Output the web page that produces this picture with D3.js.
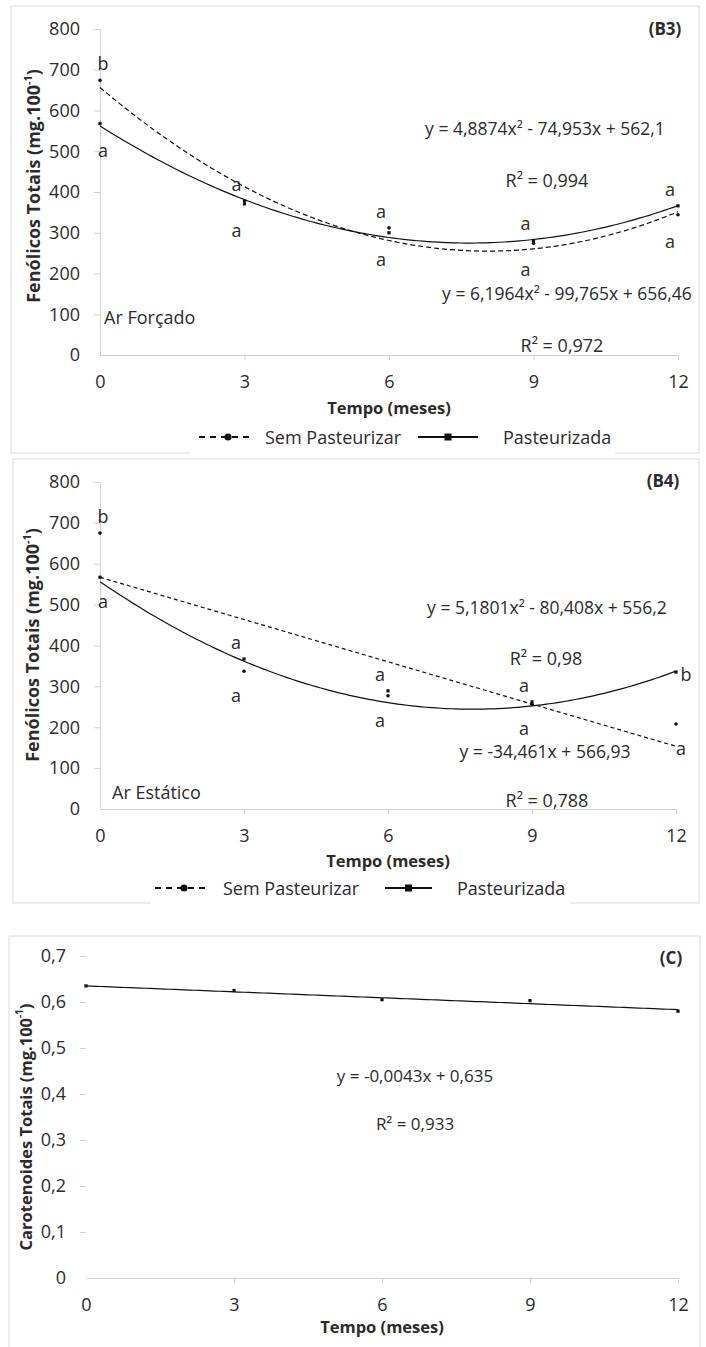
<!DOCTYPE html>
<html>
<head>
<meta charset="utf-8">
<script src="https://cdn.jsdelivr.net/npm/d3@7"></script>
<style>
  html, body { margin: 0; padding: 0; background: #fff; }
  svg text { font-family: "Open Sans", "Noto Sans", sans-serif; fill: #2b2b2b; }
</style>
</head>
<body>
<svg id="chart" width="706" height="1347"></svg>
<script>
// ---- data ----
const months = [0, 3, 6, 9, 12];
const fenolicosTicks = [0, 100, 200, 300, 400, 500, 600, 700, 800];
const carotenoidesTicks = [0, 0.1, 0.2, 0.3, 0.4, 0.5, 0.6, 0.7];

// (B3) Ar Forçado
const b3SemPasteurizar = [674, 378, 312, 274, 344];
const b3Pasteurizada   = [568, 371, 300, 281, 366];
const b3LettersSem     = ["b", "a", "a", "a", "a"];
const b3LettersPast    = ["a", "a", "a", "a", "a"];
const b3FitSem  = [656.46, -99.765, 6.1964];   // c0, c1, c2
const b3FitPast = [562.1, -74.953, 4.8874];

// (B4) Ar Estático
const b4SemPasteurizar = [675, 337, 277, 256, 208];
const b4Pasteurizada   = [567, 367, 289, 262, 335];
const b4LettersSem     = ["b", "a", "a", "a", "a"];
const b4LettersPast    = ["a", "a", "a", "a", "b"];
const b4FitSem  = [566.93, -34.461, 0];
const b4FitPast = [556.2, -80.408, 5.1801];

// (C) Carotenoides
const cCarotenoides = [0.635, 0.625, 0.605, 0.603, 0.580];
const cFit = [0.635, -0.0043, 0];

const seriesNames = ["Sem Pasteurizar", "Pasteurizada"];

// ---- drawing ----
const svg = d3.select("#chart");
const border = "#d9d9d9";
const axisGray = "#d0d0d0";
const fitY = (c, x) => c[0] + c[1] * x + c[2] * x * x;
const fitSamples = d3.range(0, 12.0001, 0.1);

function frame(x0, y0, x1, y1, gap) {
  const g = svg.append("g");
  g.append("rect").attr("x", x0).attr("y", y0).attr("width", x1 - x0).attr("height", y1 - y0)
    .attr("fill", "none").attr("stroke", border).attr("stroke-width", 1);
  if (gap) {
    g.append("rect").attr("x", gap[0]).attr("y", y1 - 14).attr("width", gap[1] - gap[0]).attr("height", 18)
      .attr("fill", "#fff");
  }
}

function axes(g, x, y, ticks, fmt, showYLine, xPad) {
  const yAxis = d3.axisLeft(y).tickValues(ticks).tickSize(6).tickSizeOuter(0).tickPadding(14).tickFormat(fmt);
  const ya = g.append("g").attr("transform", `translate(${x.range()[0]},0)`).call(yAxis);
  ya.select(".domain").attr("stroke", showYLine ? axisGray : "none");
  ya.selectAll(".tick line").attr("stroke", axisGray);
  ya.selectAll(".tick text").attr("font-size", 18).attr("fill", "#2b2b2b");
  ya.selectAll(".tick").filter(d => d === 0).select("line").attr("stroke", "none");

  const xAxis = d3.axisBottom(x).tickValues(months).tickSize(5).tickSizeOuter(0).tickPadding(xPad);
  const xa = g.append("g").attr("transform", `translate(0,${y(0)})`).call(xAxis);
  xa.select(".domain").attr("stroke", axisGray);
  xa.selectAll(".tick line").attr("stroke", axisGray);
  xa.selectAll(".tick").filter(d => d === 0).select("line").attr("stroke", "none");
  xa.selectAll(".tick text").attr("font-size", 18).attr("fill", "#2b2b2b");
}

function yTitle(g, cx, cy, label, size) {
  const t = g.append("text").attr("transform", `translate(${cx},${cy}) rotate(-90)`)
    .attr("text-anchor", "middle").attr("dominant-baseline", "central")
    .attr("font-size", size).attr("font-weight", "bold");
  t.append("tspan").text(label + " (mg.100");
  t.append("tspan").attr("dy", -6).attr("font-size", size * 0.6).text("-1");
  t.append("tspan").attr("dy", 6).text(")");
}

function text(g, x, y, s, opts = {}) {
  return g.append("text").attr("x", x).attr("y", y).attr("dominant-baseline", "central")
    .attr("text-anchor", opts.anchor || "middle").attr("font-size", opts.size || 18)
    .attr("font-weight", opts.bold ? "bold" : null).text(s);
}

function legend(g, yc, dashX, semText, solidX, pastText) {
  // dashed sample with round marker
  g.append("line").attr("x1", dashX[0]).attr("x2", dashX[1]).attr("y1", yc).attr("y2", yc)
    .attr("stroke", "#111").attr("stroke-width", 2).attr("stroke-dasharray", "6,5");
  g.append("circle").attr("cx", (dashX[0] + dashX[1]) / 2 + 3).attr("cy", yc).attr("r", 3.6).attr("fill", "#111");
  text(g, semText, yc, seriesNames[0], { anchor: "start" });
  g.append("line").attr("x1", solidX[0]).attr("x2", solidX[1]).attr("y1", yc).attr("y2", yc)
    .attr("stroke", "#111").attr("stroke-width", 2);
  const m = (solidX[0] + solidX[1]) / 2;
  g.append("rect").attr("x", m - 3.5).attr("y", yc - 3.5).attr("width", 7).attr("height", 7).attr("fill", "#111");
  text(g, pastText, yc, seriesNames[1], { anchor: "start" });
}

function lettersFor(g, x, y, sem, past, lSem, lPast, sideLast, below) {
  months.forEach((m, i) => {
    const semUp = sem[i] >= past[i];
    const up = semUp ? { v: sem[i], l: lSem[i] } : { v: past[i], l: lPast[i] };
    const dn = semUp ? { v: past[i], l: lPast[i] } : { v: sem[i], l: lSem[i] };
    let dx = i === 0 ? 3 : -8;
    if (sideLast && i === months.length - 1) {
      text(g, x(m) + 10, y(up.v) + 2, up.l, { anchor: "middle" });
      dx = 5;
    } else {
      text(g, x(m) + dx, y(up.v) - 17, up.l);
    }
    text(g, x(m) + dx, y(dn.v) + below, dn.l);
  });
}

function points(g, x, y, vals, shape) {
  vals.forEach((v, i) => {
    if (shape === "circle") {
      g.append("circle").attr("cx", x(months[i])).attr("cy", y(v)).attr("r", 1.8).attr("fill", "#111");
    } else {
      g.append("rect").attr("x", x(months[i]) - 1.6).attr("y", y(v) - 1.6).attr("width", 3.2).attr("height", 3.2).attr("fill", "#111");
    }
  });
}

function fitLine(g, x, y, c, dash) {
  const line = d3.line().x(d => x(d)).y(d => y(fitY(c, d)));
  g.append("path").datum(fitSamples).attr("d", line).attr("fill", "none")
    .attr("stroke", "#111").attr("stroke-width", 1.2).attr("stroke-dasharray", dash || null);
}

// ---------- (B3) ----------
frame(11, 6, 699, 453, [190, 615]);
{
  const g = svg.append("g");
  const x = d3.scaleLinear().domain([0, 12]).range([100, 678]);
  const y = d3.scaleLinear().domain([0, 800]).range([355, 29]);
  axes(g, x, y, fenolicosTicks, d3.format("d"), true, 15);
  yTitle(g, 33, 186, "Fenólicos Totais", 18);
  text(g, 389, 407, "Tempo (meses)", { bold: true, size: 16.5 });
  text(g, 665, 28, "(B3)", { bold: true, size: 17 });
  fitLine(g, x, y, b3FitSem, "5,3");
  fitLine(g, x, y, b3FitPast);
  points(g, x, y, b3SemPasteurizar, "circle");
  points(g, x, y, b3Pasteurizada, "square");
  lettersFor(g, x, y, b3SemPasteurizar, b3Pasteurizada, b3LettersSem, b3LettersPast, false, 26);
  text(g, 545, 128, "y = 4,8874x² - 74,953x + 562,1", { size: 17.5 });
  text(g, 547, 180, "R² = 0,994");
  text(g, 567, 293, "y = 6,1964x² - 99,765x + 656,46", { size: 17.5 });
  text(g, 562, 345, "R² = 0,972");
  text(g, 104, 317, "Ar Forçado", { anchor: "start" });
  legend(g, 437, [199, 251], 265, [418, 478], 503);
}

// ---------- (B4) ----------
frame(13, 459, 699, 903, [151, 570]);
{
  const g = svg.append("g");
  const x = d3.scaleLinear().domain([0, 12]).range([100, 676]);
  const y = d3.scaleLinear().domain([0, 800]).range([809, 482]);
  axes(g, x, y, fenolicosTicks, d3.format("d"), true, 15);
  yTitle(g, 32, 645, "Fenólicos Totais", 18);
  text(g, 388, 860, "Tempo (meses)", { bold: true, size: 16.5 });
  text(g, 663, 480, "(B4)", { bold: true, size: 17 });
  fitLine(g, x, y, b4FitSem, "4,3");
  fitLine(g, x, y, b4FitPast);
  points(g, x, y, b4SemPasteurizar, "circle");
  points(g, x, y, b4Pasteurizada, "square");
  lettersFor(g, x, y, b4SemPasteurizar, b4Pasteurizada, b4LettersSem, b4LettersPast, true, 24);
  text(g, 547, 607, "y = 5,1801x² - 80,408x + 556,2", { size: 17.5 });
  text(g, 546, 658, "R² = 0,98");
  text(g, 545, 751, "y = -34,461x + 566,93", { size: 17.5 });
  text(g, 547, 800, "R² = 0,788");
  text(g, 112, 792, "Ar Estático", { anchor: "start" });
  legend(g, 888, [155, 207], 223, [385, 432], 457);
}

// ---------- (C) ----------
{
  svg.append("path").attr("d", "M9,1347 V936 H700 V1347").attr("fill", "none").attr("stroke", border);
  const g = svg.append("g");
  const x = d3.scaleLinear().domain([0, 12]).range([86, 678]);
  const y = d3.scaleLinear().domain([0, 0.7]).range([1278, 956]);
  const fmt = d => d === 0 ? "0" : d.toFixed(1).replace(".", ",");
  axes(g, x, y, carotenoidesTicks, fmt, false, 15);
  yTitle(g, 25, 1127, "Carotenoides Totais", 16.5);
  text(g, 382, 1326, "Tempo (meses)", { bold: true, size: 16.5 });
  text(g, 671, 957, "(C)", { bold: true, size: 17 });
  fitLine(g, x, y, cFit);
  points(g, x, y, cCarotenoides, "square");
  text(g, 415, 1075, "y = -0,0043x + 0,635", { size: 17 });
  text(g, 415, 1123, "R² = 0,933", { size: 17 });
}
</script>
</body>
</html>
